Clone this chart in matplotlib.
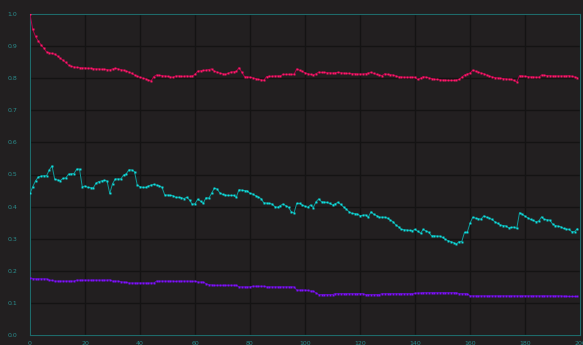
import matplotlib
matplotlib.use("Agg")
import matplotlib.pyplot as plt
import numpy as np

# per-epoch values of the three tracked metrics
red_vals = [
    1.000, 0.952, 0.930, 0.916, 0.904, 0.894, 0.882, 0.879, 0.877, 0.875, 0.869, 0.862, 0.856, 0.849, 0.841, 0.837, 0.835, 0.834, 0.833, 0.832,
    0.832, 0.831, 0.831, 0.830, 0.829, 0.829, 0.828, 0.828, 0.827, 0.826, 0.829, 0.831, 0.829, 0.827, 0.825, 0.822, 0.819, 0.815, 0.810, 0.806,
    0.803, 0.800, 0.798, 0.794, 0.791, 0.805, 0.810, 0.809, 0.808, 0.807, 0.806, 0.804, 0.803, 0.807, 0.807, 0.806, 0.806, 0.807, 0.806, 0.807,
    0.812, 0.822, 0.823, 0.824, 0.825, 0.827, 0.829, 0.822, 0.819, 0.816, 0.814, 0.812, 0.815, 0.819, 0.820, 0.821, 0.833, 0.819, 0.805, 0.804,
    0.803, 0.801, 0.799, 0.796, 0.795, 0.793, 0.805, 0.806, 0.806, 0.807, 0.807, 0.807, 0.812, 0.812, 0.812, 0.812, 0.812, 0.829, 0.825, 0.821,
    0.817, 0.814, 0.812, 0.810, 0.814, 0.819, 0.818, 0.818, 0.817, 0.817, 0.816, 0.817, 0.818, 0.817, 0.816, 0.815, 0.815, 0.814, 0.814, 0.813,
    0.813, 0.813, 0.814, 0.816, 0.818, 0.815, 0.812, 0.810, 0.808, 0.814, 0.812, 0.811, 0.810, 0.807, 0.804, 0.804, 0.803, 0.803, 0.803, 0.803,
    0.803, 0.796, 0.800, 0.805, 0.803, 0.801, 0.799, 0.797, 0.796, 0.795, 0.794, 0.794, 0.793, 0.793, 0.793, 0.794, 0.796, 0.803, 0.810, 0.813,
    0.816, 0.825, 0.822, 0.819, 0.816, 0.814, 0.810, 0.807, 0.804, 0.802, 0.801, 0.800, 0.799, 0.798, 0.797, 0.796, 0.793, 0.788, 0.808, 0.807,
    0.806, 0.805, 0.804, 0.804, 0.803, 0.803, 0.810, 0.809, 0.808, 0.808, 0.807, 0.807, 0.807, 0.807, 0.807, 0.807, 0.808, 0.806, 0.804, 0.802,
]

cyan_vals = [
    0.441, 0.462, 0.480, 0.492, 0.495, 0.496, 0.496, 0.514, 0.527, 0.485, 0.483, 0.481, 0.488, 0.489, 0.501, 0.502, 0.503, 0.517, 0.517, 0.462,
    0.464, 0.460, 0.459, 0.458, 0.473, 0.478, 0.480, 0.482, 0.480, 0.441, 0.471, 0.486, 0.486, 0.486, 0.498, 0.502, 0.515, 0.514, 0.509, 0.467,
    0.462, 0.460, 0.460, 0.464, 0.467, 0.469, 0.467, 0.465, 0.460, 0.436, 0.436, 0.435, 0.434, 0.429, 0.429, 0.428, 0.425, 0.429, 0.421, 0.407,
    0.409, 0.423, 0.417, 0.410, 0.428, 0.426, 0.441, 0.457, 0.455, 0.443, 0.438, 0.436, 0.435, 0.435, 0.435, 0.429, 0.453, 0.451, 0.450, 0.449,
    0.441, 0.439, 0.434, 0.430, 0.425, 0.412, 0.411, 0.410, 0.408, 0.400, 0.398, 0.403, 0.408, 0.403, 0.398, 0.384, 0.380, 0.410, 0.410, 0.405,
    0.401, 0.398, 0.405, 0.397, 0.415, 0.424, 0.415, 0.414, 0.413, 0.410, 0.405, 0.409, 0.413, 0.407, 0.399, 0.392, 0.384, 0.379, 0.378, 0.377,
    0.372, 0.373, 0.374, 0.367, 0.384, 0.376, 0.372, 0.367, 0.367, 0.367, 0.364, 0.358, 0.353, 0.343, 0.337, 0.329, 0.328, 0.327, 0.326, 0.325,
    0.329, 0.323, 0.317, 0.329, 0.324, 0.320, 0.309, 0.309, 0.308, 0.308, 0.304, 0.298, 0.294, 0.291, 0.288, 0.283, 0.291, 0.291, 0.320, 0.320,
    0.348, 0.367, 0.364, 0.362, 0.361, 0.371, 0.367, 0.364, 0.360, 0.353, 0.348, 0.343, 0.341, 0.340, 0.334, 0.335, 0.336, 0.332, 0.381, 0.376,
    0.370, 0.365, 0.360, 0.357, 0.353, 0.355, 0.368, 0.360, 0.359, 0.358, 0.346, 0.341, 0.339, 0.337, 0.332, 0.330, 0.329, 0.322, 0.322, 0.331,
]

purple_vals = [
    0.178, 0.176, 0.175, 0.175, 0.175, 0.175, 0.175, 0.171, 0.170, 0.168, 0.168, 0.168, 0.168, 0.168, 0.168, 0.168, 0.168, 0.171, 0.171, 0.171,
    0.171, 0.171, 0.171, 0.171, 0.171, 0.171, 0.171, 0.171, 0.171, 0.172, 0.168, 0.168, 0.168, 0.166, 0.165, 0.164, 0.162, 0.162, 0.162, 0.162,
    0.162, 0.162, 0.162, 0.162, 0.162, 0.162, 0.168, 0.168, 0.168, 0.168, 0.168, 0.168, 0.168, 0.167, 0.168, 0.168, 0.168, 0.168, 0.168, 0.167,
    0.168, 0.165, 0.165, 0.165, 0.160, 0.157, 0.156, 0.155, 0.155, 0.155, 0.155, 0.155, 0.155, 0.155, 0.155, 0.155, 0.150, 0.150, 0.150, 0.150,
    0.150, 0.152, 0.152, 0.152, 0.152, 0.152, 0.150, 0.150, 0.150, 0.150, 0.150, 0.150, 0.150, 0.150, 0.150, 0.150, 0.150, 0.140, 0.140, 0.140,
    0.140, 0.139, 0.137, 0.137, 0.131, 0.126, 0.126, 0.126, 0.126, 0.126, 0.126, 0.129, 0.129, 0.129, 0.129, 0.129, 0.129, 0.129, 0.129, 0.129,
    0.129, 0.129, 0.126, 0.126, 0.126, 0.126, 0.126, 0.126, 0.129, 0.129, 0.129, 0.129, 0.129, 0.129, 0.129, 0.129, 0.129, 0.129, 0.129, 0.129,
    0.130, 0.131, 0.131, 0.132, 0.132, 0.132, 0.132, 0.132, 0.132, 0.132, 0.132, 0.132, 0.132, 0.132, 0.132, 0.132, 0.129, 0.129, 0.129, 0.129,
    0.122, 0.122, 0.122, 0.122, 0.122, 0.122, 0.122, 0.122, 0.122, 0.122, 0.122, 0.122, 0.122, 0.122, 0.122, 0.122, 0.122, 0.122, 0.122, 0.122,
    0.122, 0.122, 0.122, 0.122, 0.122, 0.122, 0.122, 0.122, 0.122, 0.122, 0.122, 0.122, 0.122, 0.122, 0.121, 0.121, 0.120, 0.120, 0.120, 0.120,
]

x_ticks = list(range(0, 201, 20))
y_ticks = [0.0, 0.1, 0.2, 0.3, 0.4, 0.5, 0.6, 0.7, 0.8, 0.9, 1.0]

bg = '#221f20'
teal = '#1f6a6a'
label_col = '#2a8c8c'

fig = plt.figure(figsize=(5.83, 3.45), dpi=100, facecolor=bg)
ax = fig.add_axes([30 / 583, 10 / 345, 550 / 583, 321 / 345], facecolor=bg)

epochs = np.arange(len(red_vals))
ax.plot(epochs, red_vals, color='#b0004a', lw=0.7, marker='s', ms=1.4,
        mfc='#ff1a6a', mec='none', zorder=3)
ax.plot(epochs, cyan_vals, color='#109a9a', lw=0.7, marker='s', ms=1.4,
        mfc='#10e0e0', mec='none', zorder=3)
ax.plot(epochs, purple_vals, color='#5a10b0', lw=0.7, marker='s', ms=1.4,
        mfc='#8010ff', mec='none', zorder=3)

ax.set_xlim(0, 200)
ax.set_ylim(0, 1.0)
ax.set_xticks(x_ticks)
ax.set_yticks(y_ticks)
ax.set_yticklabels(['%.1f' % v for v in y_ticks])

ax.grid(True, color='#141313', lw=1.0)
ax.set_axisbelow(True)
for s in ax.spines.values():
    s.set_color(teal)
    s.set_linewidth(0.8)

ax.tick_params(axis='both', length=0, colors=label_col, labelsize=4.5)
ax.tick_params(axis='y', pad=9)
ax.tick_params(axis='x', pad=4)

fig.savefig('out.png', dpi=100, facecolor=bg)
